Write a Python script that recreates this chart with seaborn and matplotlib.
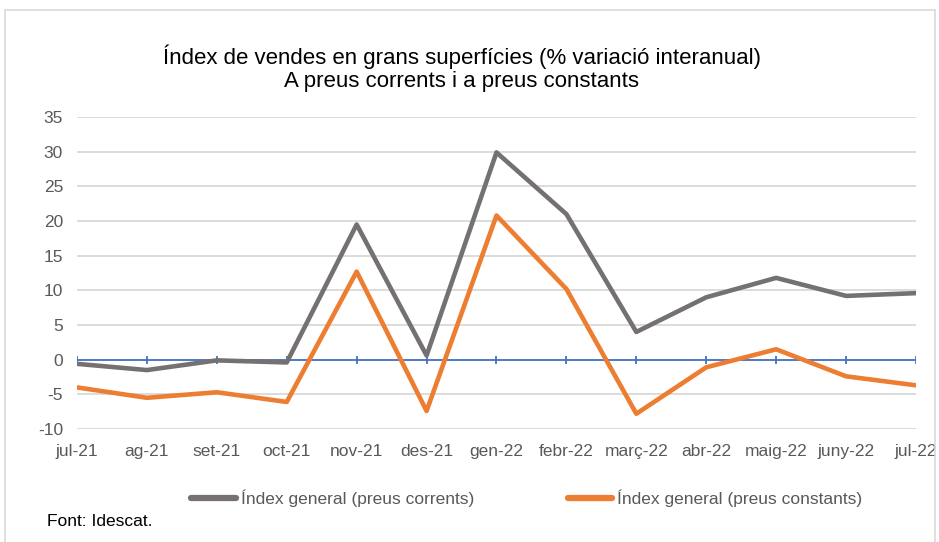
import pandas as pd
import seaborn as sns
import matplotlib.pyplot as plt
from matplotlib.patches import Rectangle

# dades llegides del gràfic
mesos = ['jul-21', 'ag-21', 'set-21', 'oct-21', 'nov-21', 'des-21', 'gen-22',
         'febr-22', 'març-22', 'abr-22', 'maig-22', 'juny-22', 'jul-22']
corrents = [-0.6, -1.5, -0.1, -0.4, 19.5, 0.6, 29.9, 21.0, 4.0, 9.0, 11.8, 9.2, 9.6]
constants = [-4.0, -5.5, -4.7, -6.1, 12.7, -7.4, 20.8, 10.2, -7.8, -1.1, 1.5, -2.4, -3.7]
y_ticks = [-10, -5, 0, 5, 10, 15, 20, 25, 30, 35]

serie1 = 'Índex general (preus corrents)'
serie2 = 'Índex general (preus constants)'

sns.set_style('white')
plt.rcParams['font.family'] = ['Liberation Sans', 'DejaVu Sans']
plt.rcParams['axes.unicode_minus'] = False

df = pd.DataFrame({
    'pos': list(range(len(mesos))) * 2,
    'valor': corrents + constants,
    'serie': [serie1] * len(mesos) + [serie2] * len(mesos),
})

fig = plt.figure(figsize=(9.39, 5.42), dpi=100)
ax = fig.add_axes([0.082, 0.2085, 0.8935, 0.5755])

# marc exterior
fig.patches.append(Rectangle((5 / 939, -0.01), 930 / 939, 1 - 10 / 542 + 0.01,
                             transform=fig.transFigure, fill=False,
                             edgecolor='#d9d9d9', linewidth=1.2))

for y in y_ticks:
    ax.axhline(y, color='#d9d9d9', linewidth=1.3, zorder=0)

# eix zero blau amb marques
ax.axhline(0, color='#4472C4', linewidth=1.3, zorder=1)
ax.vlines(range(len(mesos)), -0.6, 0.6, color='#4472C4', linewidth=1.3, zorder=1)

sns.lineplot(data=df, x='pos', y='valor', hue='serie',
             palette={serie1: '#767171', serie2: '#ED7D31'},
             linewidth=3.3, ax=ax, legend=False, zorder=3)

ax.set_xlim(0, len(mesos) - 1)
ax.set_ylim(-10, 35)
ax.set_xticks(range(len(mesos)))
ax.set_xticklabels(mesos)
ax.set_yticks(y_ticks)
ax.tick_params(axis='x', length=0, pad=11, labelsize=12.5, labelcolor='#595959')
ax.tick_params(axis='y', length=0, pad=10, labelsize=12.5, labelcolor='#595959')
ax.set_xlabel('')
ax.set_ylabel('')
for s in ax.spines.values():
    s.set_visible(False)

fig.text(0.492, 1 - 57 / 542, 'Índex de vendes en grans superfícies (% variació interanual)',
         ha='center', va='center', fontsize=16, color='#000000')
fig.text(0.492, 1 - 82 / 542, 'A preus corrents i a preus constants',
         ha='center', va='center', fontsize=16, color='#000000')

handles = [plt.Line2D([], [], color='#767171', linewidth=4.5, solid_capstyle='round'),
           plt.Line2D([], [], color='#ED7D31', linewidth=4.5, solid_capstyle='round')]
leg = fig.legend(handles, [serie1, serie2], loc='center', bbox_to_anchor=(0.561, 1 - 498 / 542),
                 ncol=2, frameon=False, fontsize=12.5, handlelength=2.55, handletextpad=0.3,
                 columnspacing=5.4)
for t in leg.get_texts():
    t.set_color('#595959')

fig.text(47 / 939, 1 - 521 / 542, 'Font: Idescat.', ha='left', va='center',
         fontsize=12.5, color='#000000')

plt.savefig('out.png', dpi=100)
